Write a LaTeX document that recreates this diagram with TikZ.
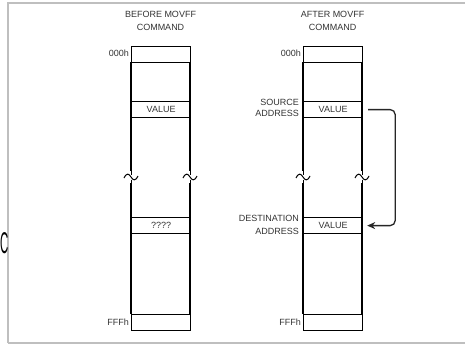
\documentclass[tikz,border=0pt]{standalone}
\usepackage{fontspec}
\setmainfont{Liberation Sans}
\usetikzlibrary{arrows.meta}
\begin{document}
\begin{tikzpicture}[x=1pt,y=-1pt,
  lbl/.style={font=\fontsize{9}{10}\selectfont, text=black!80, inner sep=0pt},
  ttl/.style={font=\fontsize{9}{12.5}\selectfont, text=black!80, inner sep=0pt, align=center},
  cell/.style={draw=black, line width=1.2pt, minimum width=59pt, minimum height=16pt, inner sep=0pt, font=\fontsize{9}{10}\selectfont, text=black!80},
  col/.style={line width=1.2pt, draw=black},
  frm/.style={draw=black!25, line width=1.4pt}
]
\useasboundingbox (0,0) rectangle (465,345);
% frame
\draw[frm] (8,343) -- (8,3) -- (465,3);
\draw[frm] (8,343) -- (465,343);
% stray C
\node[font=\fontsize{30}{30}\selectfont\rmfamily, xscale=0.38, inner sep=0pt] (cc) at (4.3,243) {C};

% titles
\node[ttl] (t1) at (160.5,21) {BEFORE MOVFF\\COMMAND};
\node[ttl] (t2) at (332.5,21) {AFTER MOVFF\\COMMAND};

% ---- columns
\foreach \xa/\xb/\n in {131/190/L, 303/362/R}{
  \node[cell, anchor=north west] (top\n) at (\xa,46) {};
  \node[cell, anchor=north west] (ffd\n) at (\xa,314) {};
  \draw[col] (\xa,62) -- (\xa,171);
  \draw[col] (\xa,183) -- (\xa,314);
  \draw[col] (\xb,62) -- (\xb,171);
  \draw[col] (\xb,183) -- (\xb,314);
  \foreach \xx in {\xa,\xb}{
    \draw[line width=1pt] (\xx-7,178) .. controls (\xx-4,172) and (\xx-2,174) .. (\xx,177)
      .. controls (\xx+2,180) and (\xx+4,182) .. (\xx+7,176);
    \draw[line width=1pt] (\xx,171) -- (\xx,174.5);
    \draw[line width=1pt] (\xx,179.5) -- (\xx,183);
  }
}
\node[cell, anchor=north west] (valL) at (131,101) {VALUE};
\node[cell, anchor=north west] (qqL) at (131,217) {????};
\node[cell, anchor=north west] (srcR) at (303,101) {VALUE};
\node[cell, anchor=north west] (dstR) at (303,217) {VALUE};

% address labels
\node[lbl, anchor=east] (a1) at (129,53) {000h};
\node[lbl, anchor=east] (a2) at (129,322) {FFFh};
\node[lbl, anchor=east] (a3) at (301,53) {000h};
\node[lbl, anchor=east] (a4) at (301,322) {FFFh};
\node[lbl, anchor=east, align=right, font=\fontsize{9}{11}\selectfont] (src) at (299,108) {SOURCE\\ADDRESS};
\node[lbl, anchor=east, align=right, font=\fontsize{9}{13.5}\selectfont] (dst) at (299,225) {DESTINATION\\ADDRESS};

% arrow
\draw[line width=1.3pt, black!85, rounded corners=5pt, -{Stealth[length=8pt,width=7pt]}]
  ([xshift=5pt]srcR.east) -- ++(27,0) |- ([xshift=4pt]dstR.east);
\end{tikzpicture}
\end{document}
